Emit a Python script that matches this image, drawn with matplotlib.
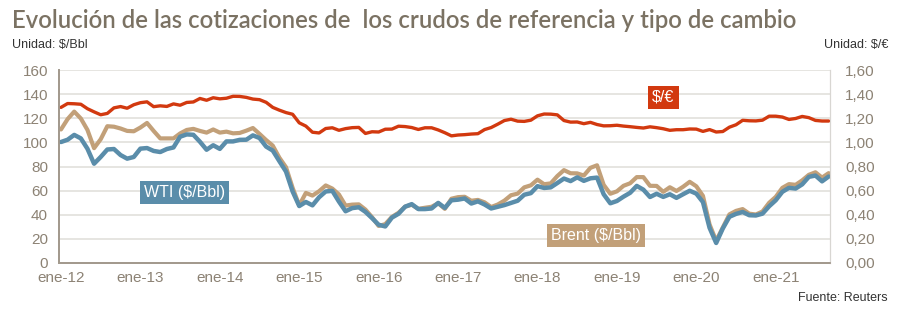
import numpy as np
import matplotlib
matplotlib.use("agg")
from matplotlib import pyplot as plt

# monthly averages, ene-2012 .. sep-2021
brent = [110.7, 119.3, 125.5, 119.8, 110.3, 95.2, 102.6, 113.4, 113.0, 111.5, 109.5, 109.2,
         112.3, 116.1, 109.5, 103.3, 103.3, 103.3, 107.4, 110.3, 111.2, 109.5, 108.1, 110.7,
         108.1, 108.9, 107.5, 107.8, 109.7, 111.9, 107.0, 101.9, 97.3, 87.3, 79.4, 62.3,
         47.8, 58.1, 55.9, 59.5, 64.3, 61.7, 56.8, 47.6, 48.4, 48.6, 44.3, 38.0,
         30.7, 32.2, 38.2, 41.6, 46.7, 48.3, 44.9, 45.8, 46.6, 49.5, 44.9, 53.3,
         54.6, 54.9, 51.6, 52.3, 50.3, 46.4, 48.5, 51.7, 56.2, 57.5, 62.7, 64.4,
         69.1, 65.3, 66.0, 72.1, 77.0, 74.4, 74.3, 72.5, 78.9, 81.0, 64.8, 57.4,
         59.4, 64.0, 66.1, 71.2, 71.2, 64.0, 63.9, 59.0, 62.8, 59.7, 63.2, 67.3,
         63.6, 55.7, 32.0, 18.4, 29.4, 40.3, 43.2, 44.7, 40.9, 40.2, 42.7, 49.9,
         54.8, 62.3, 65.4, 64.8, 68.5, 73.1, 75.2, 70.8, 74.5]

wti = [100.3, 102.2, 106.2, 103.3, 94.7, 82.3, 87.9, 94.1, 94.5, 89.5, 86.5, 87.9,
       94.8, 95.3, 92.9, 92.0, 94.5, 95.8, 104.7, 106.6, 106.3, 100.5, 93.9, 97.6,
       94.6, 100.8, 100.8, 102.1, 102.2, 105.8, 103.6, 96.5, 93.2, 84.4, 75.8, 59.3,
       47.2, 50.6, 47.8, 54.5, 59.3, 59.8, 50.9, 42.9, 45.5, 46.2, 42.4, 37.2,
       31.7, 30.3, 37.6, 40.8, 46.7, 48.8, 44.7, 44.7, 45.2, 49.8, 45.7, 52.0,
       52.5, 53.5, 49.3, 51.1, 48.5, 45.2, 46.6, 48.0, 49.8, 51.6, 56.6, 57.9,
       63.7, 62.2, 62.7, 66.3, 70.0, 67.9, 71.0, 68.1, 70.2, 70.8, 57.0, 49.5,
       51.4, 55.0, 58.2, 63.9, 60.8, 54.7, 57.4, 54.8, 57.0, 54.0, 57.0, 59.9,
       57.5, 50.5, 29.2, 16.6, 28.6, 38.3, 40.7, 42.3, 39.6, 39.4, 40.9, 47.0,
       52.0, 59.0, 62.3, 61.7, 65.2, 71.4, 72.5, 67.7, 71.7]

usd_eur = [1.290, 1.322, 1.320, 1.316, 1.279, 1.253, 1.229, 1.240, 1.286, 1.297, 1.283, 1.312,
           1.329, 1.336, 1.296, 1.303, 1.298, 1.319, 1.308, 1.331, 1.335, 1.364, 1.349, 1.370,
           1.361, 1.366, 1.382, 1.381, 1.373, 1.359, 1.354, 1.332, 1.290, 1.267, 1.247, 1.233,
           1.162, 1.135, 1.084, 1.078, 1.115, 1.121, 1.100, 1.114, 1.122, 1.124, 1.074, 1.088,
           1.086, 1.109, 1.110, 1.134, 1.131, 1.123, 1.107, 1.121, 1.121, 1.103, 1.080, 1.054,
           1.061, 1.064, 1.069, 1.072, 1.106, 1.123, 1.151, 1.181, 1.192, 1.176, 1.174, 1.184,
           1.220, 1.235, 1.234, 1.228, 1.181, 1.168, 1.169, 1.155, 1.166, 1.148, 1.137, 1.138,
           1.142, 1.135, 1.130, 1.124, 1.119, 1.129, 1.122, 1.113, 1.100, 1.105, 1.105, 1.111,
           1.110, 1.091, 1.106, 1.086, 1.090, 1.126, 1.146, 1.183, 1.179, 1.178, 1.184, 1.217,
           1.217, 1.210, 1.190, 1.198, 1.215, 1.205, 1.182, 1.177, 1.177]

year_labels = ["ene-12", "ene-13", "ene-14", "ene-15", "ene-16",
               "ene-17", "ene-18", "ene-19", "ene-20", "ene-21"]

c_red = "#D2390F"
c_tan = "#C2A079"
c_blue = "#5A8DAA"
c_tick = "#8C8274"
c_axis = "#A39A8E"

plt.rcParams["font.family"] = ["Liberation Sans", "DejaVu Sans"]

fig = plt.figure(figsize=(9.04, 3.34), dpi=100)
ax = fig.add_axes([59 / 904, 71 / 334, 771 / 904, 193 / 334])
ax2 = ax.twinx()

x = np.arange(len(wti))
ax.plot(x, brent, color=c_tan, lw=3.0, solid_capstyle="round", zorder=3)
ax.plot(x, wti, color=c_blue, lw=3.2, solid_capstyle="round", zorder=4)
ax2.plot(x, usd_eur, color=c_red, lw=2.4, solid_capstyle="round")

ax.set_xlim(-0.3, 116.2)
ax.set_ylim(0, 160)
ax2.set_ylim(0, 1.6)
ax.set_yticks(np.arange(0, 161, 20))
ax2.set_yticks(np.arange(0, 1.61, 0.2))
ax2.set_yticklabels([f"{v:.2f}".replace(".", ",") for v in np.arange(0, 1.61, 0.2)])
ax.set_xticks(np.arange(0, len(wti), 12)[:len(year_labels)])
ax.set_xticklabels(year_labels)

ax.grid(axis="y", color="#E2E0DC", lw=1.2)
ax.set_axisbelow(True)
ax.tick_params(axis="both", length=0, colors=c_tick, labelsize=11)
ax.tick_params(axis="y", pad=8)
ax.tick_params(axis="x", pad=6)
ax2.tick_params(axis="y", length=0, colors=c_tick, labelsize=11, pad=11)

for a in (ax, ax2):
    a.spines["top"].set_visible(False)
    a.spines["left"].set_color(c_axis)
    a.spines["bottom"].set_color(c_axis)
    a.spines["right"].set_color("#D8D6D2")
    a.spines["left"].set_linewidth(1.3)
    a.spines["bottom"].set_linewidth(1.3)

ax.text(0.163, 0.365, "WTI ($/Bbl)", transform=ax.transAxes, color="white", fontsize=11.5,
        ha="center", va="center", zorder=6,
        bbox=dict(boxstyle="square,pad=0.25", fc=c_blue, ec="none"))
ax.text(0.697, 0.14, "Brent ($/Bbl)", transform=ax.transAxes, color="white", fontsize=11.5,
        ha="center", va="center", zorder=6,
        bbox=dict(boxstyle="square,pad=0.25", fc=c_tan, ec="none"))
ax.text(0.784, 0.86, "$/€", transform=ax.transAxes, color="white", fontsize=11.5,
        ha="center", va="center", zorder=6,
        bbox=dict(boxstyle="square,pad=0.25", fc=c_red, ec="none"))

fig.text(12 / 904, 1 - 21 / 334, "Evolución de las cotizaciones de  los crudos de referencia y tipo de cambio",
         fontsize=17.2, color="#7B7263", family=["Lato", "DejaVu Sans"], weight="semibold", va="center")
fig.text(12 / 904, 1 - 45 / 334, "Unidad: $/Bbl", fontsize=9, color="#333333", va="center")
fig.text(888 / 904, 1 - 45 / 334, "Unidad: $/€", fontsize=9, color="#333333", va="center", ha="right")
fig.text(888 / 904, 1 - 298 / 334, "Fuente: Reuters", fontsize=9, color="#333333", va="center", ha="right")

fig.savefig("out.png", dpi=100)
